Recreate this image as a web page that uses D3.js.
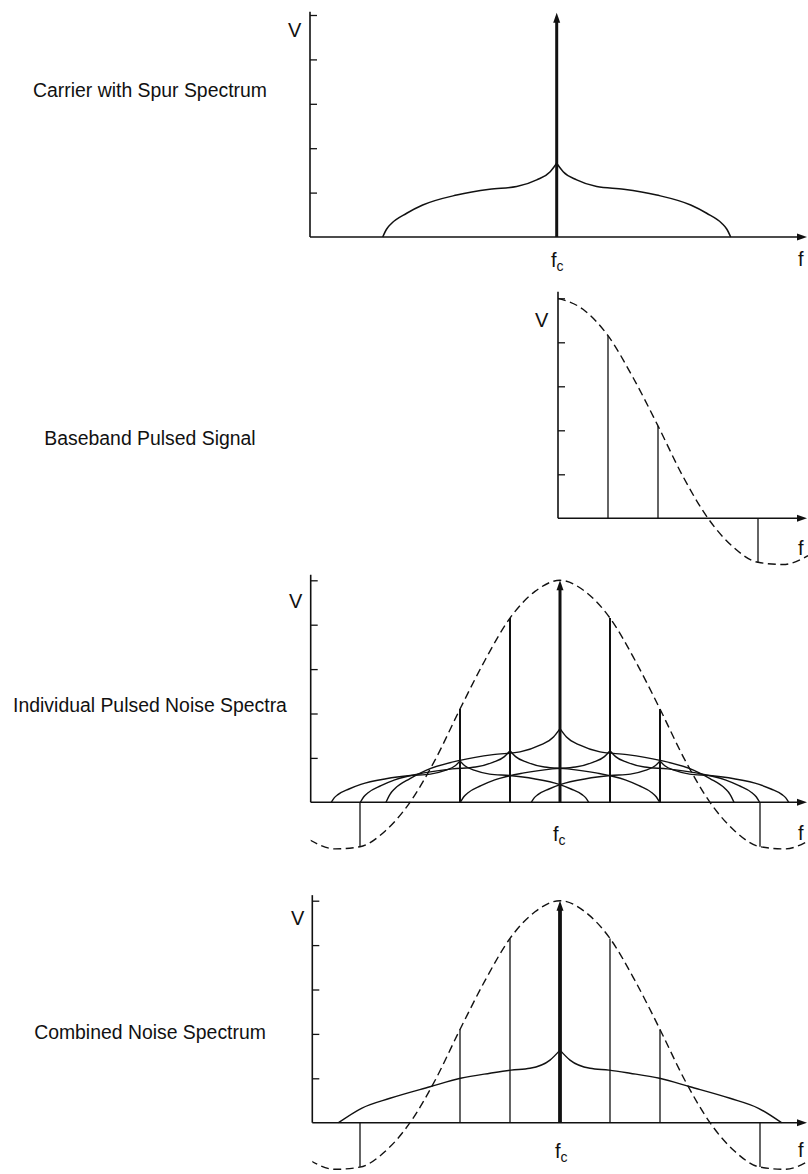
<!DOCTYPE html>
<html>
<head>
<meta charset="utf-8">
<script src="https://cdn.jsdelivr.net/npm/d3@7"></script>
<style>
  body { margin: 0; background: #fff; }
  text { font-family: "Liberation Sans", Arial, sans-serif; fill: #111; }
</style>
</head>
<body>
<script>
// harmonic index of each spectral line and its amplitude (carrier = 1)
const harmonics = [-4, -3, -2, -1, 0, 1, 2, 3, 4];
const lineAmps = [-0.2, 0, 0.42, 0.83, 1, 0.83, 0.42, 0, -0.2];

// dashed sin(x)/x envelope, right half
const envOffsets = [0, 0.5, 1, 1.5, 2, 2.5, 3, 3.5, 4, 4.5, 5];
const envValues = [1.0, 0.95, 0.83, 0.64, 0.42, 0.19, 0, -0.13, -0.2, -0.21, -0.17];

// spur skirt around the carrier, left half (outer edge -> cusp)
const spurOffsets = [-3.48, -3.4, -3.3, -3.0, -2.68, -2.0, -1.34, -0.8, -0.4, -0.13, 0];
const spurValues = [0, 0.036, 0.062, 0.107, 0.144, 0.189, 0.215, 0.227, 0.257, 0.294, 0.332];

// how the skirt is scaled on each pulse line (individual spectra)
const skirtHarmonics = [-2, -1, 0, 1, 2];
const skirtHeight = [0.56, 0.7, 1, 0.7, 0.56];
const skirtWidth = [0.74, 0.86, 1, 0.86, 0.74];

// combined noise skirt, left half
const combOffsets = [-4.43, -3.97, -3.4, -2.6, -1.99, -1.4, -0.98, -0.6, -0.2, 0];
const combValues = [0, 0.065, 0.11, 0.162, 0.2, 0.223, 0.237, 0.245, 0.282, 0.327];

const yTicks = [0.2, 0.4, 0.6, 0.8, 1.0];
const titles = ['Carrier with Spur Spectrum', 'Baseband Pulsed Signal',
  'Individual Pulsed Noise Spectra', 'Combined Noise Spectrum'];

const width = 808, height = 1174;

const svg = d3.select('body').append('svg')
  .attr('width', width)
  .attr('height', height);

// layout of the four stacked panels
const panels = [
  { kind: 'carrier', cx: 556.7, axisX: 310, base: 237, vUnit: 222, top: 1.015, titleY: 97, vX: 288, vY: 37, fY: 266, fcX: 551 },
  { kind: 'baseband', cx: 558, axisX: 558, base: 518.3, vUnit: 220, top: 1.03, titleY: 445, vX: 535, vY: 327, fY: 555 },
  { kind: 'individual', cx: 560, axisX: 310.7, base: 802.3, vUnit: 222, top: 1.025, titleY: 712, vX: 289, vY: 608, fY: 840, fcX: 553 },
  { kind: 'combined', cx: 560, axisX: 312.3, base: 1122.7, vUnit: 222, top: 1.025, titleY: 1039, vX: 291, vY: 925, fY: 1157, fcX: 555 }
];

const mirror = (offs, vals) => offs.map((o, i) => [-o, vals[i]]).reverse();

panels.forEach((p, pi) => {
  const x = d3.scaleLinear().domain([0, 1]).range([p.cx, p.cx + 50]);
  const y = d3.scaleLinear().domain([0, 1]).range([p.base, p.base - p.vUnit]);
  const g = svg.append('g');

  const clipId = 'clip' + pi;
  svg.append('clipPath').attr('id', clipId)
    .append('rect')
    .attr('x', p.axisX).attr('y', y(1.2))
    .attr('width', width - p.axisX).attr('height', y(-0.4) - y(1.2));

  const line = d3.line()
    .x(d => x(d[0]))
    .y(d => y(d[1]))
    .curve(d3.curveMonotoneX);

  // title on the left
  svg.append('text')
    .attr('x', 150).attr('y', p.titleY)
    .attr('text-anchor', 'middle')
    .style('font-size', '19.4px')
    .text(titles[pi]);

  // y axis with inward ticks
  g.append('line')
    .attr('x1', p.axisX).attr('x2', p.axisX)
    .attr('y1', y(0)).attr('y2', y(p.top))
    .style('stroke', '#111').style('stroke-width', 1.6);

  const yAxis = g.append('g')
    .attr('transform', `translate(${p.axisX},0)`)
    .call(d3.axisRight(y).tickValues(yTicks).tickSize(7).tickFormat(''));
  yAxis.select('.domain').remove();
  yAxis.selectAll('line').style('stroke', '#111').style('stroke-width', 1.3);

  // x axis with arrow
  g.append('line')
    .attr('x1', p.axisX).attr('x2', 800)
    .attr('y1', y(0)).attr('y2', y(0))
    .style('stroke', '#111').style('stroke-width', 1.6);
  g.append('path')
    .attr('d', `M807,${y(0)} L797,${y(0) - 3.5} L797,${y(0) + 3.5} Z`)
    .style('fill', '#111');

  // labels
  svg.append('text')
    .attr('x', p.vX).attr('y', p.vY)
    .style('font-size', '20px')
    .text('V');
  svg.append('text')
    .attr('x', 798).attr('y', p.fY)
    .style('font-size', '20px')
    .text('f');
  if (p.fcX) {
    const t = svg.append('text')
      .attr('x', p.fcX).attr('y', p.fY + 1)
      .style('font-size', '20px')
      .text('f');
    t.append('tspan')
      .attr('dy', 4)
      .style('font-size', '14px')
      .text('c');
  }

  const plot = g.append('g').attr('clip-path', `url(#${clipId})`);

  // dashed envelope
  if (p.kind !== 'carrier') {
    const right = envOffsets.map((o, i) => [o, envValues[i]]);
    const env = p.kind === 'baseband' ? right : mirror(envOffsets, envValues).concat(right.slice(1));
    plot.append('path')
      .attr('d', line(env))
      .style('fill', 'none')
      .style('stroke', '#111')
      .style('stroke-width', 1.4)
      .style('stroke-dasharray', '8,4.5');
  }

  // skirts
  const drawSkirt = (offs, vals, k, hs, ws, sw) => {
    const left = offs.map((o, i) => [k + o * ws, vals[i] * hs]);
    const right = offs.map((o, i) => [k - o * ws, vals[i] * hs]);
    [left, right].forEach(half => {
      plot.append('path')
        .attr('d', line(half))
        .style('fill', 'none')
        .style('stroke', '#111')
        .style('stroke-width', sw);
    });
  };

  if (p.kind === 'carrier') {
    drawSkirt(spurOffsets, spurValues, 0, 1, 1, 1.5);
  } else if (p.kind === 'individual') {
    skirtHarmonics.forEach((k, i) => drawSkirt(spurOffsets, spurValues, k, skirtHeight[i], skirtWidth[i], 1.4));
  } else if (p.kind === 'combined') {
    drawSkirt(combOffsets, combValues, 0, 1, 1, 1.4);
  }

  // spectral lines
  harmonics.forEach((k, i) => {
    const a = lineAmps[i];
    if (a === 0) return;
    if (p.kind === 'carrier' && k !== 0) return;
    if (p.kind === 'baseband' && k <= 0) return;
    let sw = 1.3;
    if (k === 0) sw = p.kind === 'combined' ? 3.8 : 3;
    else if (p.kind === 'individual' && a > 0) sw = 2;
    const tip = k === 0 ? (p.kind === 'carrier' ? 1.01 : 1.0) : a;
    plot.append('line')
      .attr('x1', x(k)).attr('x2', x(k))
      .attr('y1', y(0)).attr('y2', k === 0 ? y(tip) + 6 : y(tip))
      .style('stroke', '#111')
      .style('stroke-width', sw);
    if (k === 0) {
      plot.append('path')
        .attr('d', `M${x(0)},${y(tip)} L${x(0) - 3.5},${y(tip) + 10} L${x(0) + 3.5},${y(tip) + 10} Z`)
        .style('fill', '#111');
    }
  });
});
</script>
</body>
</html>
